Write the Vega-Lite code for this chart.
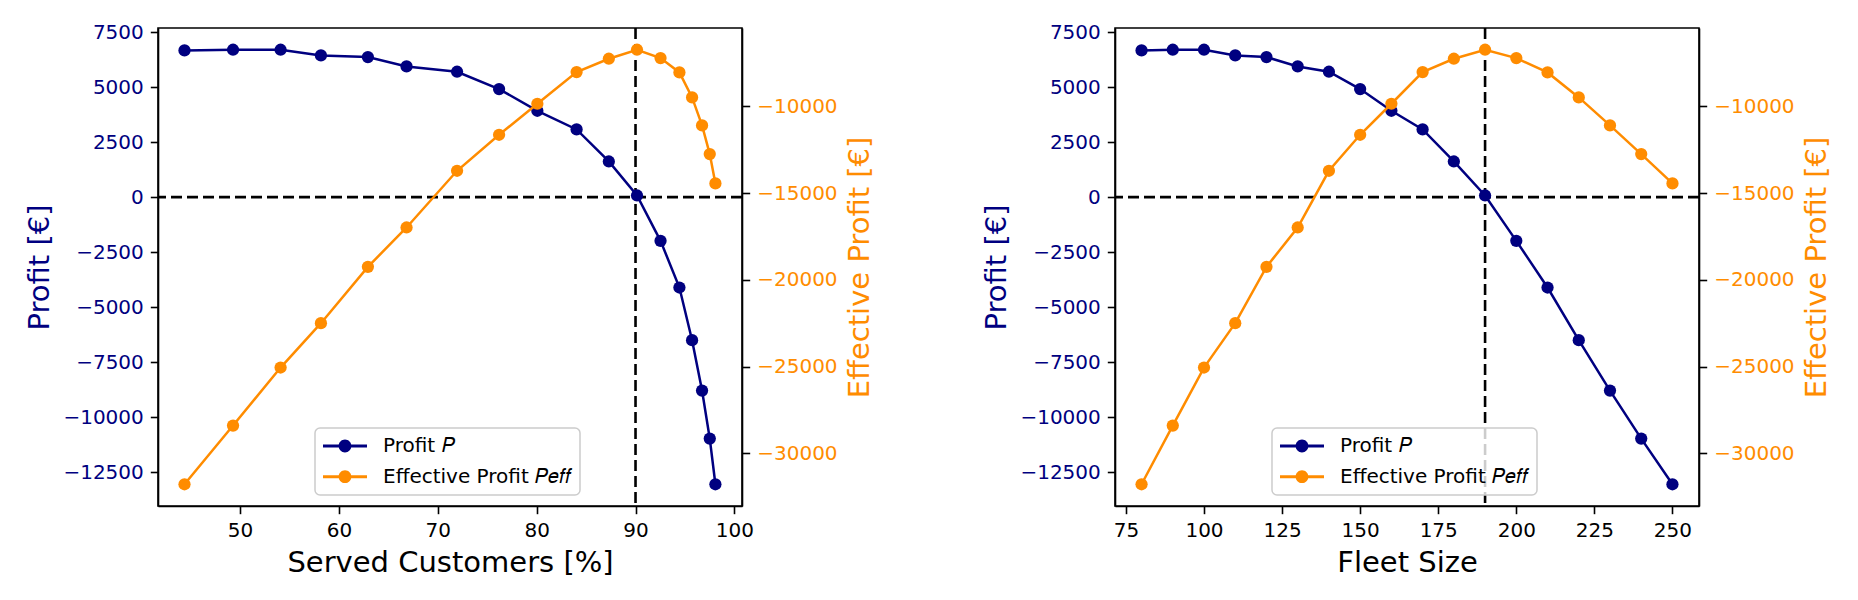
{
  "$schema": "https://vega.github.io/schema/vega-lite/v6.json",
  "padding": {"left": 25, "top": 21, "right": 5, "bottom": 5},
  "background": "white",
  "bounds": "flush",
  "spacing": 373,
  "data": {
    "values": [
      {"customers": 44.38, "fleet": 80, "profit": 6667, "eff": -31788},
      {"customers": 49.29, "fleet": 90, "profit": 6697, "eff": -28403},
      {"customers": 54.1, "fleet": 100, "profit": 6697, "eff": -25057},
      {"customers": 58.18, "fleet": 110, "profit": 6439, "eff": -22500},
      {"customers": 62.93, "fleet": 120, "profit": 6363, "eff": -19250},
      {"customers": 66.84, "fleet": 130, "profit": 5939, "eff": -16981},
      {"customers": 71.95, "fleet": 140, "profit": 5697, "eff": -13711},
      {"customers": 76.2, "fleet": 150, "profit": 4909, "eff": -11635},
      {"customers": 80.07, "fleet": 160, "profit": 3924, "eff": -9846},
      {"customers": 84.04, "fleet": 170, "profit": 3076, "eff": -8019},
      {"customers": 87.3, "fleet": 180, "profit": 1621, "eff": -7250},
      {"customers": 90.15, "fleet": 190, "profit": 76, "eff": -6731},
      {"customers": 92.53, "fleet": 200, "profit": -1985, "eff": -7212},
      {"customers": 94.44, "fleet": 210, "profit": -4106, "eff": -8039},
      {"customers": 95.72, "fleet": 220, "profit": -6499, "eff": -9481},
      {"customers": 96.73, "fleet": 230, "profit": -8788, "eff": -11096},
      {"customers": 97.51, "fleet": 240, "profit": -10969, "eff": -12750},
      {"customers": 98.08, "fleet": 250, "profit": -13044, "eff": -14442}
    ]
  },
  "resolve": {"scale": {"color": "independent"}, "legend": {"color": "independent"}},
  "hconcat": [
    {
      "width": 584,
      "height": 478,
      "layer": [
        {
          "layer": [
            {
              "data": {"values": [{}]},
              "mark": {"type": "rule", "color": "black", "strokeWidth": 2.6, "strokeDash": [11, 5]},
              "encoding": {
                "y": {"datum": 0, "type": "quantitative", "title": "Profit [€]",
                      "scale": {"domain": [-14031, 7684], "nice": false, "zero": false}}
              }
            },
            {
              "data": {"values": [{}]},
              "mark": {"type": "rule", "color": "black", "strokeWidth": 2.6, "strokeDash": [11, 5]},
              "encoding": {
                "x": {"datum": 90, "type": "quantitative",
                      "scale": {"domain": [41.7, 100.77], "nice": false, "zero": false}}
              }
            },
            {
              "mark": {"type": "line", "color": "#000080", "strokeWidth": 2.5},
              "encoding": {
                "x": {"field": "customers", "type": "quantitative", "title": "Served Customers [%]",
                      "scale": {"domain": [41.7, 100.77], "nice": false, "zero": false},
                      "axis": {"values": [50, 60, 70, 80, 90, 100], "format": "d"}},
                "y": {"field": "profit", "type": "quantitative", "title": "Profit [€]",
                      "scale": {"domain": [-14031, 7684], "nice": false, "zero": false},
                      "axis": {"orient": "left", "format": "d", "labelColor": "#000080", "titleColor": "#000080",
                               "values": [-12500, -10000, -7500, -5000, -2500, 0, 2500, 5000, 7500]}}
              }
            },
            {
              "mark": {"type": "point", "filled": true, "size": 150, "opacity": 1},
              "encoding": {
                "x": {"field": "customers", "type": "quantitative",
                      "scale": {"domain": [41.7, 100.77], "nice": false, "zero": false}},
                "y": {"field": "profit", "type": "quantitative",
                      "scale": {"domain": [-14031, 7684], "nice": false, "zero": false}},
                "color": {"datum": "Profit 𝑃",
                          "scale": {"domain": ["Profit 𝑃", "Effective Profit 𝑃𝑒𝑓𝑓"], "range": ["#000080", "#ff8c00"]}}
              }
            }
          ]
        },
        {
          "layer": [
            {
              "mark": {"type": "line", "color": "#ff8c00", "strokeWidth": 2.5},
              "encoding": {
                "x": {"field": "customers", "type": "quantitative",
                      "scale": {"domain": [41.7, 100.77], "nice": false, "zero": false}},
                "y": {"field": "eff", "type": "quantitative", "title": "Effective Profit [€]",
                      "scale": {"domain": [-33041, -5478], "nice": false, "zero": false},
                      "axis": {"orient": "right", "format": "d", "labelColor": "#ff8c00", "titleColor": "#ff8c00",
                               "titleAngle": 270, "titleBaseline": "top",
                               "values": [-30000, -25000, -20000, -15000, -10000]}}
              }
            },
            {
              "mark": {"type": "point", "filled": true, "size": 150, "opacity": 1},
              "encoding": {
                "x": {"field": "customers", "type": "quantitative",
                      "scale": {"domain": [41.7, 100.77], "nice": false, "zero": false}},
                "y": {"field": "eff", "type": "quantitative",
                      "scale": {"domain": [-33041, -5478], "nice": false, "zero": false}},
                "color": {"datum": "Effective Profit 𝑃𝑒𝑓𝑓"}
              }
            }
          ]
        }
      ],
      "resolve": {"scale": {"y": "independent"}}
    },
    {
      "width": 584,
      "height": 478,
      "layer": [
        {
          "layer": [
            {
              "data": {"values": [{}]},
              "mark": {"type": "rule", "color": "black", "strokeWidth": 2.6, "strokeDash": [11, 5]},
              "encoding": {
                "y": {"datum": 0, "type": "quantitative", "title": "Profit [€]",
                      "scale": {"domain": [-14031, 7684], "nice": false, "zero": false}}
              }
            },
            {
              "data": {"values": [{}]},
              "mark": {"type": "rule", "color": "black", "strokeWidth": 2.6, "strokeDash": [11, 5]},
              "encoding": {
                "x": {"datum": 190, "type": "quantitative",
                      "scale": {"domain": [71.5, 258.5], "nice": false, "zero": false}}
              }
            },
            {
              "mark": {"type": "line", "color": "#000080", "strokeWidth": 2.5},
              "encoding": {
                "x": {"field": "fleet", "type": "quantitative", "title": "Fleet Size",
                      "scale": {"domain": [71.5, 258.5], "nice": false, "zero": false},
                      "axis": {"values": [75, 100, 125, 150, 175, 200, 225, 250], "format": "d"}},
                "y": {"field": "profit", "type": "quantitative", "title": "Profit [€]",
                      "scale": {"domain": [-14031, 7684], "nice": false, "zero": false},
                      "axis": {"orient": "left", "format": "d", "labelColor": "#000080", "titleColor": "#000080",
                               "values": [-12500, -10000, -7500, -5000, -2500, 0, 2500, 5000, 7500]}}
              }
            },
            {
              "mark": {"type": "point", "filled": true, "size": 150, "opacity": 1},
              "encoding": {
                "x": {"field": "fleet", "type": "quantitative",
                      "scale": {"domain": [71.5, 258.5], "nice": false, "zero": false}},
                "y": {"field": "profit", "type": "quantitative",
                      "scale": {"domain": [-14031, 7684], "nice": false, "zero": false}},
                "color": {"datum": "Profit 𝑃",
                          "scale": {"domain": ["Profit 𝑃", "Effective Profit 𝑃𝑒𝑓𝑓"], "range": ["#000080", "#ff8c00"]}}
              }
            }
          ]
        },
        {
          "layer": [
            {
              "mark": {"type": "line", "color": "#ff8c00", "strokeWidth": 2.5},
              "encoding": {
                "x": {"field": "fleet", "type": "quantitative",
                      "scale": {"domain": [71.5, 258.5], "nice": false, "zero": false}},
                "y": {"field": "eff", "type": "quantitative", "title": "Effective Profit [€]",
                      "scale": {"domain": [-33041, -5478], "nice": false, "zero": false},
                      "axis": {"orient": "right", "format": "d", "labelColor": "#ff8c00", "titleColor": "#ff8c00",
                               "titleAngle": 270, "titleBaseline": "top",
                               "values": [-30000, -25000, -20000, -15000, -10000]}}
              }
            },
            {
              "mark": {"type": "point", "filled": true, "size": 150, "opacity": 1},
              "encoding": {
                "x": {"field": "fleet", "type": "quantitative",
                      "scale": {"domain": [71.5, 258.5], "nice": false, "zero": false}},
                "y": {"field": "eff", "type": "quantitative",
                      "scale": {"domain": [-33041, -5478], "nice": false, "zero": false}},
                "color": {"datum": "Effective Profit 𝑃𝑒𝑓𝑓"}
              }
            }
          ]
        }
      ],
      "resolve": {"scale": {"y": "independent"}}
    }
  ],
  "config": {
    "font": "DejaVu Sans",
    "view": {"stroke": "black", "strokeWidth": 1.6},
    "axis": {
      "grid": false,
      "domainColor": "black",
      "domainWidth": 1.6,
      "tickColor": "black",
      "tickWidth": 1.6,
      "tickSize": 7.7,
      "labelPadding": 7,
      "labelFontSize": 20,
      "labelColor": "black",
      "labelFlush": false,
      "labelOverlap": false,
      "titleFontSize": 29,
      "titleFontWeight": "normal",
      "titleColor": "black",
      "titlePadding": 8
    },
    "legend": {
      "orient": "none",
      "legendX": 157,
      "legendY": 400,
      "title": null,
      "symbolType": "M-1,-0.15L3.4,-0.15L3.4,0.15L-1,0.15Z M1.84,0A0.64,0.64 0 1,1 0.56,0A0.64,0.64 0 1,1 1.84,0Z",
      "symbolSize": 400,
      "symbolStrokeWidth": 0,
      "symbolOpacity": 1,
      "labelFontSize": 20,
      "labelColor": "black",
      "labelLimit": 400,
      "labelOffset": 40,
      "rowPadding": 10.7,
      "padding": 8,
      "fillColor": "rgba(255,255,255,0.8)",
      "strokeColor": "#cccccc",
      "strokeWidth": 1.5,
      "cornerRadius": 5
    }
  }
}
